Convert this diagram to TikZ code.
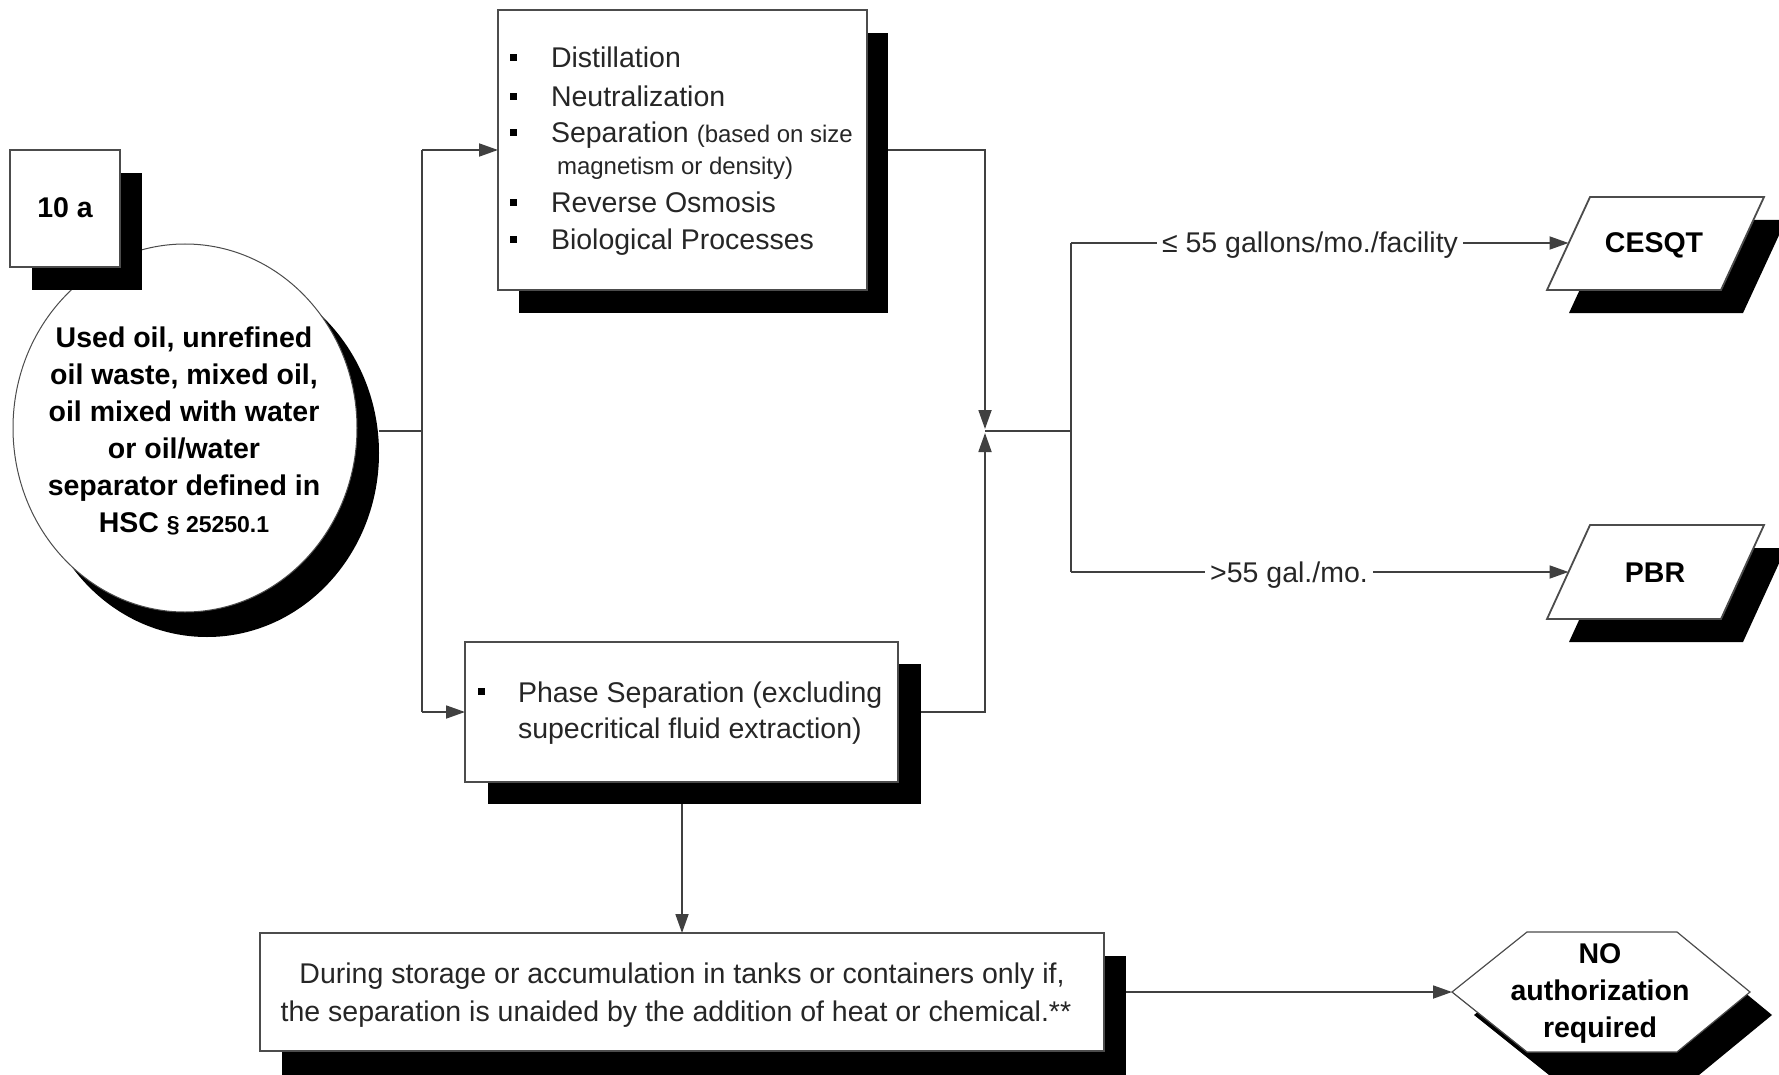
\documentclass[tikz,border=0pt]{standalone}
\usepackage{fontspec}
\setmainfont{Liberation Sans}
\usetikzlibrary{arrows.meta,calc,shapes.geometric}
\newcommand\mainsz{\fontsize{28.5}{37}\selectfont}
\newcommand\smallsz{\fontsize{24}{30}\selectfont}
\newcommand\secsz{\fontsize{23}{30}\selectfont}
\begin{document}
\begin{tikzpicture}[x=1pt,y=-1pt,
  conn/.style={draw=black!75, line width=1.8pt},
  arr/.style={conn, -{Triangle[length=19pt,width=13pt]}},
  boxshape/.style={draw=black!70, line width=1.8pt, fill=white, inner sep=0pt, outer sep=0pt},
  txt/.style={inner sep=0pt, outer sep=0pt, text=black!85, font=\mainsz},
  btxt/.style={inner sep=0pt, outer sep=0pt, text=black, font=\mainsz\bfseries},
  bullet/.style={fill=black, inner sep=0pt, minimum size=7pt},
  lbl/.style={fill=white, inner xsep=5pt, inner ysep=3pt, text=black!85, font=\mainsz}
]
\useasboundingbox (0,0) rectangle (1779,1075);
\fill[white] (0,0) rectangle (1779,1075);

% ---- circle (source)
\fill[black] (207,453) ellipse [x radius=172, y radius=184];
\node[boxshape, ellipse, line width=1pt, minimum width=344pt, minimum height=368pt] (circ) at (185,428) {};
\node[btxt, anchor=base] (c1) at (184,347) {Used oil, unrefined};
\node[btxt, anchor=base] (c2) at (184,384) {oil waste, mixed oil,};
\node[btxt, anchor=base] (c3) at (184,421) {oil mixed with water};
\node[btxt, anchor=base] (c4) at (184,458) {or oil/water};
\node[btxt, anchor=base] (c5) at (184,495) {separator defined in};
\node[btxt, anchor=base] (c6) at (184,532) {HSC {\secsz\bfseries § 25250.1}};

% ---- 10 a box
\fill[black] (32,173) rectangle (142,290);
\node[boxshape, minimum width=110pt, minimum height=117pt] (tenA) at (65,208.5) {};
\node[btxt, anchor=base] (tenAt) at (65,218) {10 a};

% ---- process box (top)
\fill[black] (519,33) rectangle (888,313);
\node[boxshape, minimum width=369pt, minimum height=280pt] (procbox) at (682.5,150) {};
\node[bullet] (pb1) at (513,58) {};
\node[bullet] (pb2) at (513,97) {};
\node[bullet] (pb3) at (513,133) {};
\node[bullet] (pb4) at (513,203) {};
\node[bullet] (pb5) at (513,240) {};
\node[txt, anchor=base west] (pt1) at (551,68) {Distillation};
\node[txt, anchor=base west] (pt2) at (551,107) {Neutralization};
\node[txt, anchor=base west] (pt3) at (551,143) {Separation {\smallsz (based on size}};
\node[txt, anchor=base west, font=\smallsz] (pt3b) at (557,175) {magnetism or density)};
\node[txt, anchor=base west] (pt4) at (551,213) {Reverse Osmosis};
\node[txt, anchor=base west] (pt5) at (551,250) {Biological Processes};

% ---- phase separation box
\fill[black] (488,664) rectangle (921,804);
\node[boxshape, minimum width=433pt, minimum height=140pt] (phase) at (681.5,712) {};
\node[bullet] (phb) at (481,691) {};
\node[txt, anchor=base west] (ph1) at (518,702) {Phase Separation (excluding};
\node[txt, anchor=base west] (ph2) at (518,738) {supecritical fluid extraction)};

% ---- storage box
\fill[black] (282,956) rectangle (1126,1076);
\node[boxshape, minimum width=844pt, minimum height=118pt] (store) at (682,992) {};
\node[txt, anchor=base] (st1) at (682,983) {During storage or accumulation in tanks or containers only if,};
\node[txt, anchor=base] (st2) at (676,1021) {the separation is unaided by the addition of heat or chemical.**};

% ---- CESQT parallelogram
\fill[black] (1612,220) -- (1786,220) -- (1743,313) -- (1569,313) -- cycle;
\draw[boxshape] (1590,197) -- (1764,197) -- (1721,290) -- (1547,290) -- cycle;
\node[btxt, anchor=base] (cesqt) at (1654,253) {CESQT};
\coordinate (cesqtIn) at (1568.5,243);

% ---- PBR parallelogram
\fill[black] (1612,548) -- (1786,548) -- (1743,642) -- (1569,642) -- cycle;
\draw[boxshape] (1590,525) -- (1764,525) -- (1721,619) -- (1547,619) -- cycle;
\node[btxt, anchor=base] (pbr) at (1655,582) {PBR};
\coordinate (pbrIn) at (1568.5,572);

% ---- NO authorization hexagon
\fill[black, shift={(22,23)}] (1452,992) -- (1527,932) -- (1677,932) -- (1750,992) -- (1677,1052) -- (1527,1052) -- cycle;
\draw[boxshape, line width=1.2pt] (1452,992) -- (1527,932) -- (1677,932) -- (1750,992) -- (1677,1052) -- (1527,1052) -- cycle;
\node[btxt, anchor=base] (na1) at (1600,963) {NO};
\node[btxt, anchor=base] (na2) at (1600,1000) {authorization};
\node[btxt, anchor=base] (na3) at (1600,1037) {required};
\coordinate (hexIn) at (1452,992);

% ---- connectors
\coordinate (circOut) at (379,431);
\coordinate (splitM) at (422,431);
\coordinate (splitT) at (422,150);
\coordinate (splitB) at (422,712);
\draw[conn] (circOut) -- (splitM);
\draw[conn] (splitT) -- (splitB);
\draw[arr] (splitT) -- (procbox.west);
\draw[arr] (splitB) -- (phase.west);

\coordinate (procOut) at (888,150);
\coordinate (phaseOut) at (921,712);
\coordinate (mergeTop) at (985,429);
\coordinate (merge) at (985,431);
\coordinate (mergeBot) at (985,433);
\draw[arr] (procOut) -| (mergeTop);
\draw[arr] (phaseOut) -| (mergeBot);

\coordinate (fork) at (1071,431);
\coordinate (forkT) at (1071,243);
\coordinate (forkB) at (1071,572);
\draw[conn] (merge) -- (fork);
\draw[conn] (forkT) -- (forkB);
\draw[arr] (forkT) -- (cesqtIn);
\draw[arr] (forkB) -- (pbrIn);
\node[lbl, anchor=base] (lblLE) at (1310,253) {≤ 55 gallons/mo./facility};
\node[lbl, anchor=base] (lblGT) at (1289,582) {>55 gal./mo.};

\coordinate (phaseDown) at (682,804);
\draw[arr] (phaseDown) -- (store.north);

\coordinate (storeOut) at (1126,992);
\draw[arr] (storeOut) -- (hexIn);
\end{tikzpicture}
\end{document}
